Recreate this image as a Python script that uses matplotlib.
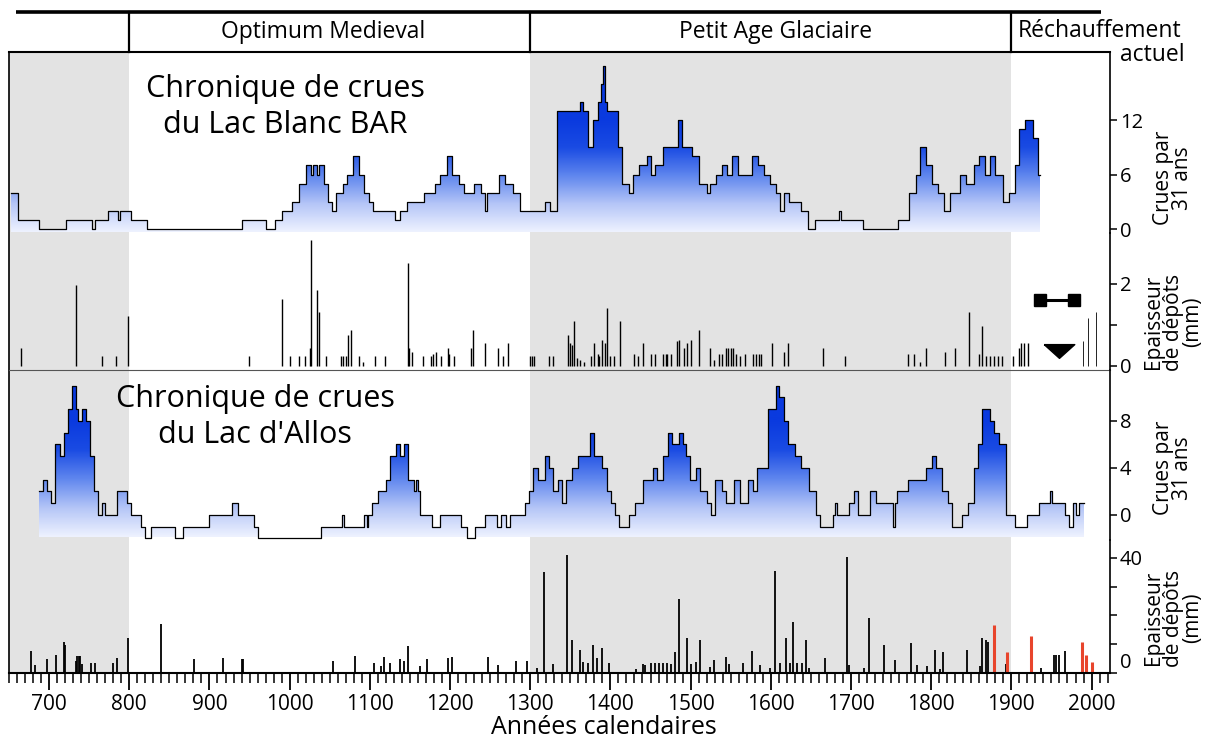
"""
Chroniques de crues du Lac Blanc BAR et du Lac d'Allos
fréquence des crues (par 31 ans) et épaisseur des dépôts
"""

import numpy as np
import matplotlib.pyplot as plt
from matplotlib.colors import LinearSegmentedColormap
from matplotlib.patches import Polygon
from matplotlib.ticker import MultipleLocator

plt.rcParams['font.family'] = ['Open Sans', 'DejaVu Sans']

# périodes climatiques
limites_periodes = [800, 1300, 1900]
zones_grises = [(650, 800), (1300, 1900)]

# Lac Blanc BAR : crues par 31 ans (valeur tenue à partir de chaque année)
blanc_annees = [653, 661, 687, 721, 754, 757, 773, 786, 789, 802, 822, 940, 970, 982,
                990, 1003, 1012, 1020, 1026, 1029, 1034, 1037, 1043, 1048, 1053, 1058,
                1066, 1072, 1079, 1086, 1093, 1099, 1104, 1131, 1137, 1146, 1168, 1181,
                1188, 1196, 1203, 1211, 1218, 1230, 1238, 1243, 1246, 1261, 1269, 1279,
                1287, 1319, 1325, 1334, 1362, 1366, 1372, 1378, 1384, 1388, 1391, 1393,
                1396, 1404, 1409, 1414, 1423, 1428, 1436, 1445, 1450, 1455, 1465, 1477,
                1484, 1489, 1502, 1510, 1520, 1524, 1532, 1539, 1546, 1552, 1559, 1576,
                1584, 1591, 1599, 1606, 1611, 1616, 1623, 1638, 1646, 1655, 1685, 1688,
                1715, 1759, 1772, 1781, 1786, 1794, 1801, 1809, 1816, 1823, 1836, 1843,
                1853, 1860, 1867, 1873, 1880, 1890, 1897, 1905, 1910, 1917, 1927, 1933]
blanc_crues = [4, 1, 0, 1, 0, 1, 2, 1, 2, 1, 0, 1, 0, 1,
               2, 3, 5, 7, 6, 7, 6, 7, 5, 3, 2, 4,
               5, 6, 8, 6, 4, 3, 2, 1, 2, 3, 4, 5,
               6, 8, 6, 5, 4, 5, 4, 2, 4, 6, 5, 4,
               2, 3, 2, 13, 14, 13, 9, 12, 14, 16, 18, 14,
               13, 13, 9, 5, 4, 6, 7, 8, 6, 7, 9, 9,
               12, 9, 8, 5, 4, 5, 6, 7, 6, 8, 6, 8,
               7, 6, 5, 4, 2, 4, 3, 2, 0, 1, 2, 1,
               0, 1, 4, 6, 9, 7, 5, 4, 2, 4, 6, 5,
               7, 8, 6, 8, 6, 3, 4, 7, 11, 12, 10, 6]
blanc_fin = 1936

# Lac Blanc BAR : épaisseur des dépôts (mm)
blanc_depot_annees = [665, 733, 766, 783, 799, 949, 991, 1000, 1012, 1019, 1025, 1027,
                      1034, 1036, 1045, 1064, 1067, 1070, 1073, 1076, 1086, 1092, 1107,
                      1119, 1147, 1149, 1152, 1166, 1176, 1179, 1182, 1189, 1197, 1199,
                      1205, 1226, 1229, 1243, 1260, 1266, 1272, 1300, 1302, 1305, 1324,
                      1328, 1347, 1349, 1352, 1355, 1358, 1362, 1367, 1376, 1380, 1384,
                      1386, 1390, 1393, 1396, 1399, 1405, 1412, 1429, 1435, 1441, 1451,
                      1455, 1466, 1469, 1471, 1476, 1483, 1485, 1492, 1495, 1501, 1510,
                      1524, 1529, 1536, 1539, 1544, 1547, 1550, 1553, 1556, 1562, 1568,
                      1578, 1581, 1585, 1588, 1601, 1617, 1622, 1665, 1693, 1771, 1779,
                      1786, 1794, 1817, 1830, 1847, 1860, 1863, 1868, 1873, 1878, 1883,
                      1888, 1902, 1909, 1912, 1916, 1921]
blanc_depot_mm = [0.43, 1.97, 0.23, 0.23, 1.21, 0.23, 1.64, 0.23, 0.23, 0.23, 0.43, 3.06,
                  1.85, 1.31, 0.23, 0.23, 0.23, 0.23, 0.76, 0.87, 0.23, 0.1, 0.23,
                  0.23, 2.51, 0.43, 0.33, 0.23, 0.23, 0.3, 0.33, 0.23, 0.43, 0.3,
                  0.23, 0.43, 0.87, 0.56, 0.43, 0.23, 0.56, 0.23, 0.23, 0.23, 0.23,
                  0.23, 0.76, 0.56, 0.5, 1.09, 0.2, 0.15, 0.1, 0.23, 0.56, 0.3,
                  0.23, 0.64, 0.56, 1.42, 0.23, 0.23, 1.09, 0.3, 0.23, 0.56, 0.3,
                  0.3, 0.3, 0.3, 0.3, 0.3, 0.6, 0.64, 0.43, 0.56, 0.64, 0.87,
                  0.43, 0.15, 0.3, 0.3, 0.43, 0.43, 0.43, 0.43, 0.3, 0.23, 0.3,
                  0.3, 0.3, 0.3, 0.3, 0.56, 0.35, 0.56, 0.43, 0.23, 0.3, 0.3,
                  0.1, 0.43, 0.33, 0.43, 1.31, 0.3, 0.98, 0.23, 0.23, 0.23, 0.23,
                  0.23, 0.23, 0.43, 0.56, 0.56, 0.56]
# dépôts récents (traits fins)
blanc_recent_annees = [1989, 1995, 2005]
blanc_recent_mm = [0.6, 1.17, 1.31]
# barre d'incertitude et repère
incertitude_annees = [1936, 1978]
incertitude_mm = 1.6
repere_annee = 1960
repere_mm = 0.36

# Lac d'Allos : crues par 31 ans
allos_annees = [687, 692, 697, 702, 707, 714, 719, 724, 729, 733, 736, 741, 746, 751,
                756, 761, 766, 770, 785, 797, 802, 815, 820, 827, 857, 867, 899, 928,
                935, 955, 960, 1039, 1065, 1068, 1093, 1096, 1098, 1103, 1110, 1120,
                1125, 1133, 1137, 1142, 1147, 1155, 1157, 1160, 1162, 1177, 1187, 1214,
                1221, 1231, 1243, 1258, 1263, 1270, 1275, 1293, 1298, 1303, 1310, 1318,
                1323, 1328, 1335, 1340, 1345, 1352, 1360, 1374, 1379, 1389, 1396, 1401,
                1406, 1411, 1423, 1431, 1441, 1453, 1458, 1465, 1472, 1477, 1485, 1490,
                1494, 1499, 1507, 1512, 1521, 1526, 1531, 1539, 1544, 1554, 1561, 1571,
                1578, 1583, 1596, 1606, 1610, 1617, 1622, 1630, 1638, 1648, 1656, 1661,
                1677, 1680, 1682, 1697, 1704, 1709, 1724, 1731, 1752, 1755, 1758, 1771,
                1793, 1801, 1806, 1813, 1821, 1826, 1838, 1846, 1853, 1858, 1864, 1873,
                1878, 1885, 1893, 1905, 1920, 1935, 1948, 1951, 1967, 1972, 1977, 1981,
                1984]
allos_crues = [2, 3, 2, 1, 6, 5, 7, 9, 11, 9, 8, 9, 8, 5,
               2, 0, 1, 0, 2, 1, 0, -1, -2, -1, -2, -1, 0, 1,
               0, -1, -2, -1, 0, -1, 0, -1, 0, 1, 2, 3,
               5, 6, 5, 6, 3, 2, 3, 2, 0, -1, 0, -1,
               -2, -1, 0, -1, 0, -1, 0, 1, 2, 4, 3, 5,
               4, 2, 3, 1, 3, 4, 5, 7, 5, 4, 2, 1,
               0, -1, 0, 1, 3, 4, 3, 5, 7, 6, 7, 6,
               5, 3, 4, 2, 1, 0, 3, 2, 1, 3, 1, 3,
               2, 4, 9, 11, 10, 8, 6, 5, 4, 2, 0, -1,
               0, 1, 0, 1, 2, 0, 2, 1, -1, 1, 2, 3,
               4, 5, 4, 2, 1, -1, 0, 1, 4, 6, 9, 8,
               7, 6, 0, -1, 0, 1, 2, 1, 0, -1, 1, 0,
               1]
allos_fin = 1990

# Lac d'Allos : épaisseur des dépôts (mm)
allos_depot_annees = [678, 683, 698, 708, 718, 720, 733, 735, 737, 739, 741, 752, 757,
                      780, 785, 798, 839, 881, 917, 940, 942, 1054, 1082, 1105, 1114,
                      1118, 1125, 1138, 1143, 1147, 1162, 1171, 1197, 1202, 1247, 1260,
                      1282, 1296, 1308, 1317, 1329, 1346, 1352, 1362, 1366, 1372, 1378,
                      1383, 1389, 1398, 1432, 1441, 1443, 1451, 1456, 1461, 1466, 1471,
                      1475, 1480, 1485, 1496, 1500, 1507, 1512, 1524, 1529, 1544, 1548,
                      1565, 1576, 1587, 1599, 1605, 1612, 1619, 1624, 1628, 1633, 1639,
                      1644, 1648, 1668, 1695, 1697, 1716, 1722, 1741, 1755, 1775, 1782,
                      1795, 1805, 1811, 1815, 1845, 1861, 1863, 1868, 1871, 1879, 1893,
                      1937, 1953, 1956, 1959, 1967]
allos_depot_mm = [7.5, 2.9, 5, 6.4, 10.8, 9.9, 4, 6, 6, 6, 3, 3.5, 3.5,
                  3.5, 5.2, 12.2, 17.2, 5, 5.2, 5, 5, 4.3, 5.8, 3.5, 2.3,
                  5.4, 3.5, 5, 4, 9.3, 2.5, 5, 5.2, 5.4, 5.4, 2.9,
                  4, 4, 1.7, 35.1, 3.1, 40.9, 11.4, 8.1, 3.7, 3.5, 9.9,
                  5.2, 8.7, 3.5, 1.5, 3.1, 2.7, 3.5, 3.5, 3.5, 3.5, 3.5,
                  3.1, 7.2, 25.8, 12.2, 3.1, 3.8, 11.6, 2, 4.6, 5.5, 3.1,
                  3.5, 7.6, 2.9, 1.7, 35.4, 3.5, 12.2, 3.5, 17.8, 3.5, 3.5,
                  11.6, 1.7, 5.2, 40.3, 2.7, 1.7, 19, 9.6, 4.6, 10.3, 2.9,
                  2.3, 8, 1.5, 7.2, 8.1, 2.3, 12.2, 11.6, 10.8, 3.5, 3.1,
                  1.7, 6.4, 6.4, 6.4, 7.8]
# dépôts des crues historiques documentées (en rouge)
allos_hist_annees = [1878, 1895, 1925, 1988, 1993, 2001]
allos_hist_mm = [16.6, 7.2, 12.8, 10.7, 6.1, 3.7]

W, H = 1222, 740
GRIS = '#e3e3e3'
degrade = LinearSegmentedColormap.from_list(
    'bleu', ['#eef2ff', '#b4c5f7', '#5f86ee', '#1a4be3', '#0a3adf'])
# triangle aplati pointe en bas
TRIANGLE = [(-1.0, 0.45), (1.0, 0.45), (0.0, -0.45), (-1.0, 0.45)]


def boite(x0, y0, x1, y1):
    """Rectangle en pixels (depuis le haut) -> [left, bottom, width, height] figure"""
    return [x0 / W, 1 - y1 / H, (x1 - x0) / W, (y1 - y0) / H]


def escalier(annees, valeurs, fin):
    bornes = list(annees[1:]) + [fin]
    xs, ys = [], []
    for a, b, v in zip(annees, bornes, valeurs):
        xs += [a, b]
        ys += [v, v]
    return np.array(xs, dtype=float), np.array(ys, dtype=float)


def courbe_crues(ax, annees, valeurs, fin, bas, haut, plafond):
    xs, ys = escalier(annees, valeurs, fin)
    contour = Polygon(np.column_stack([np.r_[xs[0], xs, xs[-1]],
                                       np.r_[bas, ys, bas]]),
                      closed=True, fc='none', ec='none')
    ax.add_patch(contour)
    # dégradé vertical découpé par la courbe
    niveaux = np.linspace(bas, plafond, 400)
    t = np.clip((niveaux - bas) / (haut - bas), 0, 1)
    img = ax.imshow(t[:, None], extent=[xs[0], xs[-1], bas, plafond], origin='lower',
                    aspect='auto', cmap=degrade, vmin=0, vmax=1, zorder=2,
                    interpolation='bilinear')
    img.set_clip_path(contour)
    ax.plot(xs, ys, color='black', lw=0.9, zorder=3)


def panneau(fig, rect, ylim, ticks, etiquettes):
    ax = fig.add_axes(rect)
    ax.set_facecolor('none')
    for cote in ['left', 'top', 'bottom']:
        ax.spines[cote].set_visible(False)
    ax.spines['right'].set_linewidth(1.2)
    ax.yaxis.tick_right()
    ax.set_yticks(ticks)
    ax.set_yticklabels(etiquettes)
    ax.tick_params(axis='y', direction='out', length=5, width=1.1, labelsize=14.5, pad=2)
    ax.tick_params(axis='x', bottom=False, labelbottom=False)
    ax.set_xlim(650, 2023)
    ax.set_ylim(*ylim)
    return ax


def main():
    fig = plt.figure(figsize=(W / 100, H / 100), dpi=100)

    # fond : périodes grisées
    fond = fig.add_axes(boite(9, 52, 1110, 673))
    for debut, fin in zones_grises:
        fond.axvspan(debut, fin, color=GRIS, lw=0)
    fond.set_xlim(650, 2023)
    fond.set_ylim(0, 1)
    for cote in ['right', 'top', 'bottom']:
        fond.spines[cote].set_visible(False)
    fond.spines['left'].set_linewidth(1.2)
    fond.set_xticks([])
    fond.set_yticks([])

    # bandeau des périodes
    bandeau = fig.add_axes(boite(9, 12, 1110, 52))
    bandeau.set_xlim(650, 2023)
    bandeau.set_ylim(0, 1)
    bandeau.axis('off')
    bandeau.plot([659, 2012], [1, 1], color='black', lw=2.6, clip_on=False,
                 solid_capstyle='butt')
    bandeau.plot([650, 2023], [0, 0], color='black', lw=1.5, clip_on=False)
    for a in limites_periodes:
        bandeau.plot([a, a], [0, 1], color='black', lw=1.6, clip_on=False)
    bandeau.text(1042, 0.5, 'Optimum Medieval', ha='center', va='center', fontsize=16.5)
    bandeau.text(1606, 0.5, 'Petit Age Glaciaire', ha='center', va='center',
                 fontsize=16.5)
    fig.text(1100 / W, 1 - 31 / H, 'Réchauffement', ha='center', va='center',
             fontsize=16.5)
    fig.text(1185 / W, 1 - 55 / H, 'actuel', ha='right', va='center', fontsize=16.5)

    # Lac Blanc : crues par 31 ans
    ax1 = panneau(fig, boite(9, 52, 1110, 233), (-0.44, 19.49), [0, 6, 12],
                  ['0', '6', '12'])
    courbe_crues(ax1, blanc_annees, blanc_crues, blanc_fin, -0.35, 12, 19.49)
    ax1.set_xlim(650, 2023)
    ax1.set_ylim(-0.44, 19.49)

    # Lac Blanc : épaisseur des dépôts
    ax2 = panneau(fig, boite(9, 233, 1110, 370), (-0.1, 3.24), [0, 1, 2],
                  ['0', '', '2'])
    ax2.spines['bottom'].set_visible(True)
    ax2.spines['bottom'].set_color('#555555')
    ax2.vlines(blanc_depot_annees, 0, blanc_depot_mm, color='black', lw=1.0)
    ax2.vlines(blanc_recent_annees, 0, blanc_recent_mm, color='black', lw=0.6)
    ax2.plot(incertitude_annees, [incertitude_mm] * 2, color='black', lw=2.2,
             marker='s', markersize=8, solid_capstyle='butt')
    ax2.plot([repere_annee], [repere_mm], marker=TRIANGLE, color='black',
             markersize=22, linestyle='none')

    # Lac d'Allos : crues par 31 ans
    ax3 = panneau(fig, boite(9, 370, 1110, 540), (-2.13, 12.34), [0, 4, 8],
                  ['0', '4', '8'])
    courbe_crues(ax3, allos_annees, allos_crues, allos_fin, -1.9, 8, 12.34)
    ax3.set_xlim(650, 2023)
    ax3.set_ylim(-2.13, 12.34)

    # Lac d'Allos : épaisseur des dépôts
    ax4 = panneau(fig, boite(9, 540, 1110, 673), (0, 46.26), [0, 10, 20, 30, 40],
                  ['0', '', '', '', '40'])
    ax4.vlines(allos_depot_annees, 0, allos_depot_mm, color='black', lw=1.3)
    ax4.vlines(allos_hist_annees, 0, allos_hist_mm, color='#e8452c', lw=2.2)
    ax4.spines['bottom'].set_visible(True)
    ax4.spines['bottom'].set_linewidth(1.5)
    ax4.set_xticks(range(700, 2001, 100))
    ax4.xaxis.set_minor_locator(MultipleLocator(10))
    ax4.tick_params(axis='x', which='major', bottom=True, labelbottom=True,
                    direction='out', length=12, width=1.3, labelsize=15, pad=3)
    ax4.tick_params(axis='x', which='minor', bottom=True, direction='out',
                    length=7, width=1.1)
    ax4.get_yticklabels()[0].set_va('bottom')
    fig.text(604 / W, 1 - 727 / H, 'Années calendaires', ha='center', va='center',
             fontsize=18)

    # titres des chroniques
    fig.text(285 / W, 1 - 107 / H, 'Chronique de crues\ndu Lac Blanc BAR',
             ha='center', va='center', fontsize=22, linespacing=1.3)
    fig.text(255 / W, 1 - 417 / H, "Chronique de crues\ndu Lac d'Allos",
             ha='center', va='center', fontsize=22, linespacing=1.3)

    # légendes des axes de droite
    for y, texte in [(178, 'Crues par\n31 ans'), (322, 'Epaisseur\nde dépôts\n(mm)'),
                     (468, 'Crues par\n31 ans'), (618, 'Epaisseur\nde dépôts\n(mm)')]:
        fig.text(1173 / W, 1 - y / H, texte, rotation=90, ha='center', va='center',
                 fontsize=15, linespacing=0.9, multialignment='center')

    fig.savefig('out.png', dpi=100, facecolor='white')
    plt.close(fig)


if __name__ == "__main__":
    main()
